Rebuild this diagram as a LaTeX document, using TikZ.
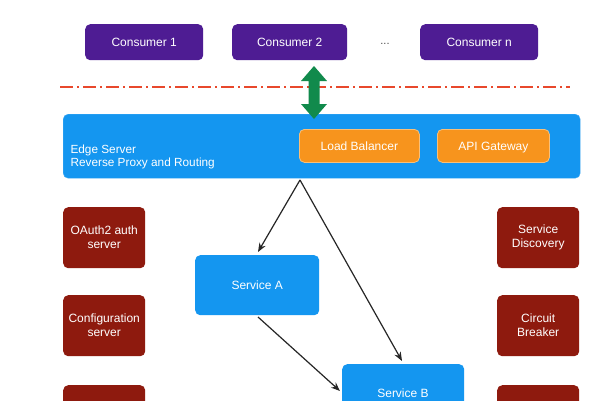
\documentclass[tikz,border=0pt]{standalone}
\usepackage{fontspec}
\setmainfont{Liberation Sans}
\usetikzlibrary{arrows.meta}
\definecolor{cpurple}{HTML}{4E1C93}
\definecolor{cblue}{HTML}{1496F0}
\definecolor{corange}{HTML}{F7941D}
\definecolor{cred}{HTML}{8E1A0E}
\definecolor{cgreen}{HTML}{118A4C}
\definecolor{cdash}{HTML}{E8482C}
\tikzset{
  box/.style={rounded corners=5pt, text=white, align=center, font=\fontsize{12}{14}\selectfont, inner sep=0pt, anchor=north west},
  consumer/.style={box, fill=cpurple, minimum width=118pt, minimum height=36pt},
  orangebox/.style={box, fill=corange, draw=corange!60!white, line width=0.8pt, text height=8.6pt, text depth=0pt},
  redbox/.style={box, fill=cred, minimum width=82pt, minimum height=61pt},
  svc/.style={box, fill=cblue, minimum width=124pt, minimum height=60pt},
  conn/.style={-{Stealth[length=9pt,width=7pt]}, line width=1.2pt, black!85},
}
\begin{document}
\begin{tikzpicture}[x=1pt,y=-1pt]
\useasboundingbox (0,0) rectangle (600,400);
\clip (0,0) rectangle (600,400);
\fill[white] (0,0) rectangle (600,400);
% consumers
\node[consumer] (c1) at (85,24) {Consumer 1};
\node[consumer, minimum width=115pt] (c2) at (232,24) {Consumer 2};
\node[text=black!70, font=\fontsize{11}{13}\selectfont] (dots) at (385,44) {...};
\node[consumer] (cn) at (420,24) {Consumer n};
% dash-dot line
\coordinate (dl) at (60,87);
\coordinate (dr) at (570,87);
\draw[cdash, line width=1.2pt, dash pattern=on 13pt off 4pt on 2pt off 4pt] (dl) -- (dr);
% edge server
\node[box, fill=cblue, draw=cblue!80!white, minimum width=517pt, minimum height=64pt] (edge) at (63,114) {};
\node[anchor=west, text=white, align=left, font=\fontsize{11.8}{13.5}\selectfont] (edgetxt) at (67,157) {Edge Server\\Reverse Proxy and Routing};
\node[orangebox, minimum width=120pt, minimum height=33pt] (lb) at (299,129) {Load Balancer};
\node[orangebox, minimum width=112pt, minimum height=33pt] (api) at (437,129) {API Gateway};
% green double arrow
\fill[cgreen] (314,66) -- (327,81) -- (319.5,81) -- (319.5,104) -- (327,104) -- (314,119) -- (301,104) -- (308.5,104) -- (308.5,81) -- (301,81) -- cycle;
% red boxes
\node[redbox] (oauth) at (63,207) {OAuth2 auth\\server};
\node[redbox] (conf) at (63,295) {Configuration\\server};
\node[redbox] (l3) at (63,385) {};
\node[redbox] (sd) at (497,207) {Service\\Discovery};
\node[redbox] (cb) at (497,295) {Circuit\\Breaker};
\node[redbox] (r3) at (497,385) {};
% services
\node[svc] (sa) at (195,255) {Service A};
\node[svc, minimum width=122pt, minimum height=60pt] (sb) at (342,364) {};
\node[text=white, font=\fontsize{12}{14}\selectfont] (sbt) at (403,393.5) {Service B};
% connectors
\coordinate (src) at (300,180);
\draw[conn] (src) -- (258,252);
\draw[conn] (src) -- (402,361);
\draw[conn] (258,317) -- (340,391);
\end{tikzpicture}
\end{document}
